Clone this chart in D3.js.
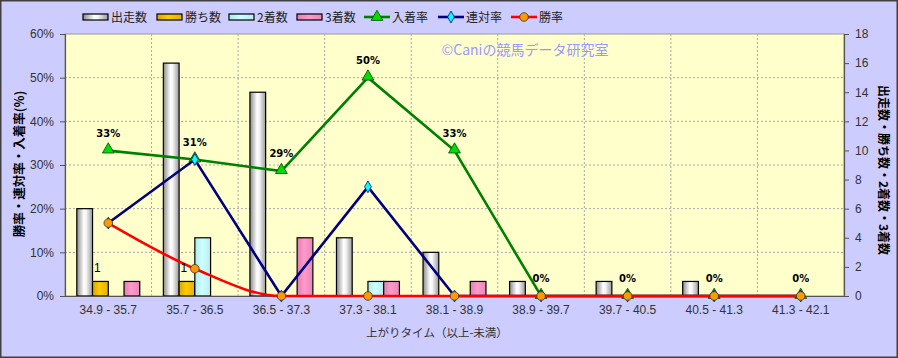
<!DOCTYPE html>
<html><head><meta charset="utf-8">
<script src="https://cdn.jsdelivr.net/npm/d3@7"></script>
<style>
html,body{margin:0;padding:0;background:#fff;}
svg{display:block;}
text{font-family:"Noto Sans CJK JP","Noto Sans",sans-serif;}
</style></head><body>
<svg id="c" width="898" height="358"></svg>
<script>
const categories = ["34.9 - 35.7","35.7 - 36.5","36.5 - 37.3","37.3 - 38.1","38.1 - 38.9","38.9 - 39.7","39.7 - 40.5","40.5 - 41.3","41.3 - 42.1"];
const runners = [6,16,14,4,3,1,1,1,0];
const wins    = [1,1,0,0,0,0,0,0,0];
const seconds = [0,4,0,1,0,0,0,0,0];
const thirds  = [1,0,4,1,1,0,0,0,0];
const placeRate = [33.3,31.25,28.6,50,33.3,0,0,0,0];
const rentaiRate = [16.7,31.25,0,25,0,0,0,0,0];
const winRate = [16.7,6.25,0,0,0,0,0,0,0];
const placeLabels = ["33%","31%","29%","50%","33%","0%","0%","0%","0%"];
const winLabels = ["1","1","","","","","","",""];
const leftTicks = [0,10,20,30,40,50,60];
const rightTicks = [0,2,4,6,8,10,12,14,16,18];

const svg = d3.select("#c");
const W=898,H=358;
const m={l:65,t:34,r:844,b:296};

svg.append("rect").attr("x",0.75).attr("y",0.75).attr("width",W-1.5).attr("height",H-1.5)
  .attr("fill","#ccccff").attr("stroke","#404040").attr("stroke-width",1.5);

const defs=svg.append("defs");
function grad(id,stops){
  const g=defs.append("linearGradient").attr("id",id).attr("x1","0").attr("x2","1").attr("y1","0").attr("y2","0");
  stops.forEach(s=>g.append("stop").attr("offset",s[0]).attr("stop-color",s[1]));
}
grad("gW",[[0,"#8a8a8a"],[0.45,"#ffffff"],[0.6,"#f4f4f4"],[1,"#9a9a9a"]]);
grad("gG",[[0,"#d9a600"],[0.45,"#ffcc00"],[1,"#e0b000"]]);
grad("gC",[[0,"#b0e8e8"],[0.45,"#ccffff"],[1,"#b8eeee"]]);
grad("gP",[[0,"#e080b0"],[0.45,"#ff99cc"],[1,"#e688b8"]]);

const x=d3.scaleBand().domain(categories).range([m.l,m.r]).padding(0);
const yL=d3.scaleLinear().domain([0,60]).range([m.b,m.t]);
const yR=d3.scaleLinear().domain([0,18]).range([m.b,m.t]);
const series=[{k:"出走数",v:runners,f:"url(#gW)"},{k:"勝ち数",v:wins,f:"url(#gG)"},{k:"2着数",v:seconds,f:"url(#gC)"},{k:"3着数",v:thirds,f:"url(#gP)"}];
const inner=d3.scaleBand().domain(series.map(s=>s.k)).range([11.8,x.bandwidth()-11.8]).padding(0);

// plot area
svg.append("rect").attr("x",m.l).attr("y",m.t).attr("width",m.r-m.l).attr("height",m.b-m.t)
  .attr("fill","#ffffcc").attr("stroke","#999").attr("stroke-width",1);

// grid
const grid=svg.append("g");
leftTicks.slice(1,-1).forEach(t=>grid.append("line").attr("x1",m.l).attr("x2",m.r).attr("y1",yL(t)).attr("y2",yL(t))
  .attr("stroke","#a8a8a8").attr("stroke-dasharray","2,2"));
categories.slice(1).forEach(c=>grid.append("line").attr("x1",x(c)).attr("x2",x(c)).attr("y1",m.t).attr("y2",m.b)
  .attr("stroke","#a8a8a8").attr("stroke-dasharray","2,2"));

// bars
const bars=svg.append("g");
series.forEach(s=>{
  bars.selectAll(null).data(categories.map((c,i)=>({c,v:s.v[i]})).filter(d=>d.v>0)).enter().append("rect")
    .attr("x",d=>x(d.c)+inner(s.k)).attr("y",d=>yR(d.v)).attr("width",inner.bandwidth()).attr("height",d=>m.b-yR(d.v))
    .attr("fill",s.f).attr("stroke","#000").attr("stroke-width",1.2);
});

// axes
const gl=svg.append("g").attr("transform",`translate(${m.l},0)`)
  .call(d3.axisLeft(yL).tickValues(leftTicks).tickSize(5).tickPadding(6).tickFormat(d=>d+"%"));
const gr=svg.append("g").attr("transform",`translate(${m.r},0)`)
  .call(d3.axisRight(yR).tickValues(rightTicks).tickSize(5).tickPadding(6));
const gb=svg.append("g").attr("transform",`translate(0,${m.b})`)
  .call(d3.axisBottom(x).tickSize(0).tickPadding(9));
[gl,gr,gb].forEach(g=>{
  g.select(".domain").attr("stroke","#555").attr("stroke-width",1.2);
  g.selectAll(".tick line").attr("stroke","#555");
  g.selectAll("text").attr("fill","#333").style("font-size","12px").style("font-family","'Liberation Sans',Arial,sans-serif");
});

// lines
const cx=c=>x(c)+x.bandwidth()/2;
function drawLine(vals,color,curve,marker){
  const pts=categories.map((c,i)=>[cx(c),yL(vals[i])]);
  const g=svg.append("g");
  g.append("path").attr("d",d3.line().curve(curve)(pts)).attr("fill","none").attr("stroke",color).attr("stroke-width",2.6);
  pts.forEach(p=>marker(g,p[0],p[1]));
  return g;
}
const tri=(g,px,py)=>g.append("path").attr("d",d3.symbol(d3.symbolTriangle,60)()).attr("transform",`translate(${px},${py-1})`)
  .attr("fill","#00dd00").attr("stroke","#004400").attr("stroke-width",0.8);
const dia=(g,px,py)=>g.append("path").attr("d",d3.symbol(d3.symbolDiamond,40)()).attr("transform",`translate(${px},${py})`)
  .attr("fill","#00ffff").attr("stroke","#000080").attr("stroke-width",0.8);
const circ=(g,px,py)=>g.append("circle").attr("cx",px).attr("cy",py).attr("r",4.3)
  .attr("fill","#ff9900").attr("stroke","#333").attr("stroke-width",0.8);

drawLine(placeRate,"#008000",d3.curveLinear,tri);
drawLine(rentaiRate,"#000080",d3.curveLinear,dia);
drawLine(winRate,"#ff0000",d3.curveMonotoneX,circ);

// labels
const lab=svg.append("g");
categories.forEach((c,i)=>{
  lab.append("text").attr("x",cx(c)).attr("y",yL(placeRate[i])-14).attr("text-anchor","middle")
    .style("font-size","10px").style("font-weight","bold").style("font-family","'DejaVu Sans',sans-serif").attr("fill","#000").text(placeLabels[i]);
  if(winLabels[i]) lab.append("text").attr("x",x(c)+inner("勝ち数")+inner.bandwidth()/2-3).attr("y",yR(wins[i])-9)
    .attr("text-anchor","middle").style("font-size","12px").style("font-family","'Liberation Sans',Arial,sans-serif").attr("fill","#000").text(winLabels[i]);
});

// watermark
svg.append("text").attr("x",525).attr("y",55).attr("text-anchor","middle").attr("fill","#9999ff")
  .style("font-size","14px").text("©Caniの競馬データ研究室");

// axis titles
svg.append("text").attr("transform","translate(24,164) rotate(-90)").attr("text-anchor","middle")
  .style("font-size","12.5px").style("font-weight","bold").attr("fill","#000").text("勝率・連対率・入着率(%)");
svg.append("text").attr("transform","translate(879,170) rotate(90)").attr("text-anchor","middle")
  .style("font-size","12px").style("font-weight","bold").attr("fill","#000").text("出走数・勝ち数・2着数・3着数");
svg.append("text").attr("x",437).attr("y",337).attr("text-anchor","middle")
  .style("font-size","11.5px").attr("fill","#333").text("上がりタイム（以上-未満）");

// legend
const leg=svg.append("g");
const legItems=[
  {t:"出走数",x:83,type:"bar",f:"url(#gW)"},
  {t:"勝ち数",x:157,type:"bar",f:"url(#gG)"},
  {t:"2着数",x:229,type:"bar",f:"url(#gC)"},
  {t:"3着数",x:297,type:"bar",f:"url(#gP)"},
  {t:"入着率",x:364,type:"line",c:"#008000",m:tri},
  {t:"連対率",x:438,type:"line",c:"#000080",m:dia},
  {t:"勝率",x:511,type:"line",c:"#ff0000",m:circ}
];
const ly=17;
legItems.forEach(d=>{
  if(d.type==="bar"){
    leg.append("rect").attr("x",d.x).attr("y",ly-3).attr("width",25).attr("height",6).attr("fill",d.f).attr("stroke","#000").attr("stroke-width",1.2);
  } else {
    leg.append("line").attr("x1",d.x).attr("x2",d.x+26).attr("y1",ly).attr("y2",ly).attr("stroke",d.c).attr("stroke-width",2.6);
    d.m(leg,d.x+13,ly+ (d.m===tri?1:0));
  }
  leg.append("text").attr("x",d.x+28).attr("y",ly+4.5).style("font-size","12px").attr("fill","#222").text(d.t);
});
</script>
</body></html>
